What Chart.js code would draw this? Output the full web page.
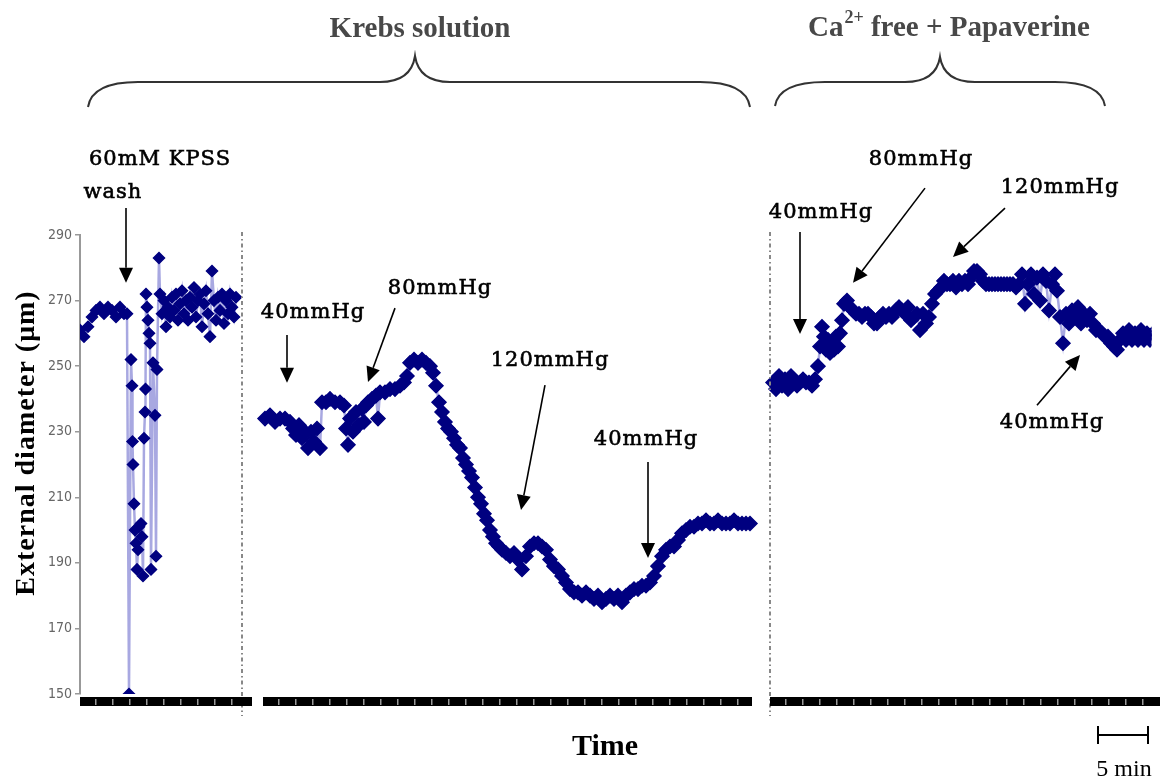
<!DOCTYPE html>
<html><head><meta charset="utf-8">
<script src="https://cdn.jsdelivr.net/npm/chart.js@4.4.1/dist/chart.umd.min.js"></script>
<style>html,body{margin:0;padding:0;background:#fff}canvas{display:block}</style>
</head><body>
<canvas id="c" width="1160" height="780"></canvas>
<script>
// ---- data (time in minutes, external diameter in µm) ----
const yTicks = [150,170,190,210,230,250,270,290];

const kpssTime = [0,0.4,0.8,1.2,1.6,2.0,2.4,2.8,3.2,3.6,4.0,4.4,4.7,
  4.9,5.1,5.2,5.25,5.3,5.4,5.5,5.6,5.7,5.8,5.9,
  6.1,6.2,6.3,6.4,6.5,6.55,6.6,6.7,6.8,6.9,7.0,7.1,
  7.3,7.5,7.6,7.7,7.9,8.0,
  8.2,8.4,8.6,8.8,9.0,9.2,9.4,9.6,9.8,10.0,
  10.2,10.4,10.6,10.8,11.0,11.2,11.4,11.6,11.8,12.0,
  12.2,12.4,12.6,12.8,13.0,13.2,13.4,13.6,13.8,14.0,
  14.2,14.4,14.6,14.8,15.0,15.2,15.4,15.6];
const kpssDiam = [261,259,262,265,267,268,266,268,267,265,268,266,266,
  150,252,244,227,220,208,200,196,188,194,201,
  202,198,186,228,236,243,272,268,264,260,257,188,
  251,235,192,249,283,272,
  266,270,262,268,265,271,267,272,264,269,
  273,266,270,264,271,268,274,265,270,272,
  262,269,273,266,259,279,270,264,271,267,
  272,263,270,266,272,268,265,271];

const krebsTime = [18.5,19.0,19.5,20.0,20.5,21.0,21.3,21.6,21.9,22.2,
  22.5,22.8,23.1,23.4,23.7,24.0,24.2,24.6,25.0,25.5,
  26.0,26.4,26.6,26.8,27.0,27.3,27.6,27.9,28.2,28.4,
  28.6,28.8,29.2,29.6,29.8,30.0,30.5,31.0,31.5,32.0,
  32.4,32.7,33.0,33.4,33.8,34.2,34.6,35.0,35.3,35.6,
  35.9,36.2,36.5,36.8,37.1,37.4,37.7,38.0,38.3,38.6,
  38.9,39.2,39.5,39.8,40.1,40.4,40.7,41.0,41.3,41.6,
  41.9,42.2,42.6,43.0,43.4,43.8,44.2,44.6,45.0,45.4,
  45.8,46.2,46.6,47.0,47.4,47.8,48.2,48.6,49.0,49.4,
  49.8,50.2,50.6,51.0,51.4,51.8,52.2,52.6,53.0,53.4,
  53.8,54.2,54.6,55.0,55.4,55.8,56.2,56.6,57.0,57.4,
  57.8,58.2,58.6,59.0,59.4,59.8,60.2,60.6,61.0,61.4,
  61.8,62.2,62.6,63.0,63.4,63.8,64.2,64.6,65.0,65.4,
  65.8,66.2,66.6,67.0];
const krebsDiam = [234,235,233,234,234,233,231,229,232,228,
  230,225,230,227,231,225,239,239,240,239,
  239,238,231,226,234,230,236,232,237,233,
  238,239,240,241,234,242,242,243,243,244,
  245,247,251,252,251,252,251,250,248,244,
  239,236,233,231,230,228,226,225,222,220,
  218,216,213,210,208,205,203,200,198,196,
  195,194,193,192,193,191,188,192,195,196,
  196,195,194,191,189,188,186,184,182,181,
  181,180,181,180,179,180,178,179,180,179,
  180,178,180,181,182,182,183,183,184,186,
  189,192,194,195,195,197,199,200,201,201,
  202,202,203,202,202,203,202,202,202,203,
  202,202,202,202];

const papTime = [69.3,69.6,69.9,70.2,70.5,70.8,71.1,71.4,71.7,72.0,
  72.3,72.6,72.9,73.2,73.5,73.8,74.0,74.2,74.4,74.6,
  74.8,75.0,75.2,75.4,75.6,75.8,76.0,76.2,76.4,76.7,
  77.0,77.3,77.6,77.9,78.2,78.5,78.8,79.1,79.4,79.7,
  80.0,80.3,80.6,80.9,81.2,81.6,81.9,82.2,82.5,82.8,
  83.1,83.4,83.7,84.0,84.3,84.6,84.9,85.2,85.5,85.8,
  86.1,86.4,86.7,87.0,87.3,87.6,87.9,88.2,88.5,88.8,
  89.1,89.4,89.7,90.0,90.3,90.6,90.9,91.2,91.5,91.8,
  92.1,92.4,92.7,93.0,93.3,93.6,93.9,94.2,94.5,94.8,
  95.1,95.4,95.7,96.0,96.3,96.6,96.9,97.2,97.5,97.7,
  98.0,98.3,98.6,98.9,99.2,99.5,99.8,100.1,100.4,100.7,
  101.0,101.3,101.6,101.9,102.2,102.5,102.8,103.1,103.4,103.7,
  104.0,104.3,104.6,104.9,105.2,105.5,105.8,106.1,106.4,106.7,
  107.0,107.3];
const papDiam = [245,243,247,244,246,243,247,245,244,245,
  246,245,245,244,246,250,256,262,259,255,
  258,254,257,255,259,256,260,264,269,270,
  268,267,266,266,265,266,266,265,263,263,
  265,266,265,266,265,267,268,267,266,268,
  264,265,266,261,266,263,265,269,272,273,
  274,276,275,275,276,274,276,275,276,275,
  277,279,279,278,276,275,275,275,275,275,
  275,275,275,275,275,274,275,278,269,275,
  278,272,277,270,278,276,267,275,278,273,
  265,257,266,263,267,265,268,263,266,264,
  266,263,261,261,260,259,259,257,256,255,
  258,260,258,261,258,260,258,261,258,260,
  258,260];

// recording segments on the time axis (min)
const recordStart = [0, 18.3, 69.0];
const recordEnd   = [17.2, 67.2, 108.0];
const dividerTimes = [16.2, 69.0];

// annotations: text centre and arrow (time, µm)
const noteText = ['60mM KPSS','wash','40mmHg','80mmHg','120mmHg','40mmHg','40mmHg','80mmHg','120mmHg','40mmHg'];
const noteT    = [8.0, 3.3, 23.3, 36.0, 47.0, 56.6, 74.1, 84.1, 98.0, 97.2];
const noteV    = [312.9, 302.8, 266.2, 273.8, 251.6, 227.5, 297.0, 312.9, 304.6, 232.7];
const arrowFromT = [4.6, 20.7, 31.5, 46.5, 56.8, 72.0, 84.5, 92.5, 95.7];
const arrowFromV = [298.2, 259.5, 267.7, 244.2, 220.8, 290.9, 304.3, 298.2, 238.1];
const arrowToT   = [4.6, 20.7, 28.8, 44.1, 56.8, 72.0, 77.3, 87.3, 100.0];
const arrowToV   = [275.4, 244.9, 245.2, 206.1, 191.5, 259.8, 275.4, 283.3, 253.4];
const scaleBarMin = 5;

const SERIF = '"Liberation Serif","Times New Roman",serif';
const NOTE_FONT = '"DejaVu Serif",serif';

function series(t, d){ return t.map((v,i)=>({x:v, y:d[i]})); }
function ds(t, d, r){
  return { data: series(t,d), borderColor:'rgba(110,110,205,0.6)', borderWidth:2.5,
    pointStyle:'rectRot', pointRadius:r, pointBackgroundColor:'#000080',
    pointBorderColor:'#000080', pointBorderWidth:1.5, tension:0, fill:false };
}

function arrow(ctx, x0,y0,x1,y1){
  const a = Math.atan2(y1-y0, x1-x0), L=15, W=7;
  const bx = x1 - L*Math.cos(a), by = y1 - L*Math.sin(a);
  ctx.beginPath(); ctx.moveTo(x0,y0); ctx.lineTo(bx,by); ctx.stroke();
  ctx.beginPath(); ctx.moveTo(x1,y1);
  ctx.lineTo(bx + W*Math.sin(a), by - W*Math.cos(a));
  ctx.lineTo(bx - W*Math.sin(a), by + W*Math.cos(a));
  ctx.closePath(); ctx.fill();
}
function brace(ctx, xl, xr, xt, yEnd, yMid, yTip){
  ctx.beginPath();
  ctx.moveTo(xl, yEnd);
  ctx.quadraticCurveTo(xl+4, yMid, xl+50, yMid);
  ctx.lineTo(xt-35, yMid);
  ctx.quadraticCurveTo(xt-4, yMid, xt, yTip);
  ctx.quadraticCurveTo(xt+4, yMid, xt+35, yMid);
  ctx.lineTo(xr-50, yMid);
  ctx.quadraticCurveTo(xr-4, yMid, xr, yEnd);
  ctx.stroke();
}

const deco = {
  id:'deco',
  afterDatasetsDraw(chart){
    const {ctx, scales:{x,y}} = chart;
    const X = v=>x.getPixelForValue(v), Y = v=>y.getPixelForValue(v);
    ctx.save();
    // dividers
    ctx.strokeStyle='#888'; ctx.lineWidth=2; ctx.setLineDash([4,3,1.5,3]);
    dividerTimes.forEach(t=>{ ctx.beginPath(); ctx.moveTo(X(t), 232); ctx.lineTo(X(t), 716); ctx.stroke(); });
    ctx.setLineDash([]);
    // time base bars
    const yb = Y(150)+3;
    recordStart.forEach((s,i)=>{
      const x0 = X(s), x1 = Math.min(X(recordEnd[i]), chart.width);
      ctx.fillStyle='#000'; ctx.fillRect(x0, yb, x1-x0, 9);
      ctx.fillStyle='#9a9a9a';
      for(let p=x0+15; p<x1-4; p+=17) ctx.fillRect(p, yb+2, 1.5, 6);
    });
    // annotations
    ctx.fillStyle='#000'; ctx.strokeStyle='#000'; ctx.lineWidth=1.6;
    arrowFromT.forEach((t,i)=>arrow(ctx, X(t), Y(arrowFromV[i]), X(arrowToT[i]), Y(arrowToV[i])));
    ctx.font = '21px '+NOTE_FONT; ctx.textAlign='center'; ctx.textBaseline='middle';
    ctx.lineWidth = 0.6;
    try{ ctx.letterSpacing='1px'; }catch(e){}
    noteText.forEach((s,i)=>{ ctx.fillText(s, X(noteT[i]), Y(noteV[i])); ctx.strokeText(s, X(noteT[i]), Y(noteV[i])); });
    try{ ctx.letterSpacing='0px'; }catch(e){}
    // braces & titles
    ctx.strokeStyle='#333'; ctx.lineWidth=2;
    brace(ctx, 88, 750, 415, 107, 82, 56);
    brace(ctx, 775, 1105, 940, 106, 82, 57);
    ctx.fillStyle='#484848'; ctx.font='bold 29px '+SERIF; ctx.textBaseline='alphabetic';
    ctx.fillText('Krebs solution', 420, 37);
    ctx.textAlign='left';
    let xx = 808;
    ctx.font='bold 29px '+SERIF; ctx.fillText('Ca', xx, 36); xx += ctx.measureText('Ca').width;
    ctx.font='bold 18px '+SERIF; ctx.fillText('2+', xx+1, 23); xx += ctx.measureText('2+').width+1;
    ctx.font='bold 29px '+SERIF; ctx.fillText(' free + Papaverine', xx, 36);
    // axis titles
    ctx.fillStyle='#000'; ctx.textAlign='center';
    ctx.font='bold 30px '+SERIF; ctx.fillText('Time', 605, 755);
    ctx.save(); ctx.translate(34, 443); ctx.rotate(-Math.PI/2);
    try{ ctx.letterSpacing='1px'; }catch(e){}
    ctx.font='bold 28px '+SERIF;
    ctx.fillText('External diameter (\u03bcm)', 0, 0); ctx.restore();
    // scale bar
    const sx0 = X(recordEnd[2]-scaleBarMin-1.2), sx1 = X(recordEnd[2]-1.2);
    ctx.strokeStyle='#000'; ctx.lineWidth=2;
    ctx.beginPath(); ctx.moveTo(sx0,735); ctx.lineTo(sx1,735);
    ctx.moveTo(sx0,726); ctx.lineTo(sx0,744); ctx.moveTo(sx1,726); ctx.lineTo(sx1,744); ctx.stroke();
    ctx.font='24px '+SERIF; ctx.fillText(scaleBarMin+' min', (sx0+sx1)/2+1, 776);
    ctx.restore();
  }
};

new Chart(document.getElementById('c'), {
  type:'line',
  data:{ datasets:[ds(kpssTime,kpssDiam,5.5), ds(krebsTime,krebsDiam,7), ds(papTime,papDiam,7)] },
  options:{
    responsive:false, animation:false, devicePixelRatio:1,
    layout:{ padding:{ left:0, right:2, top:235, bottom:86 } },
    plugins:{ legend:{display:false}, tooltip:{enabled:false} },
    scales:{
      x:{ type:'linear', min:0, max:107.15, display:false },
      y:{ min:150, max:290,
        afterFit:s=>{ s.width = 80; },
        afterBuildTicks:s=>{ s.ticks = yTicks.map(v=>({value:v})); },
        grid:{ drawOnChartArea:false, drawTicks:true, tickLength:5, color:'#999', lineWidth:1.5 },
        border:{ display:true, color:'#999', width:2 },
        ticks:{ padding:3, color:'#666', font:{ family:'"Liberation Sans Narrow","DejaVu Sans Condensed",sans-serif', size:14 } }
      }
    }
  },
  plugins:[deco]
});
</script>
</body></html>
